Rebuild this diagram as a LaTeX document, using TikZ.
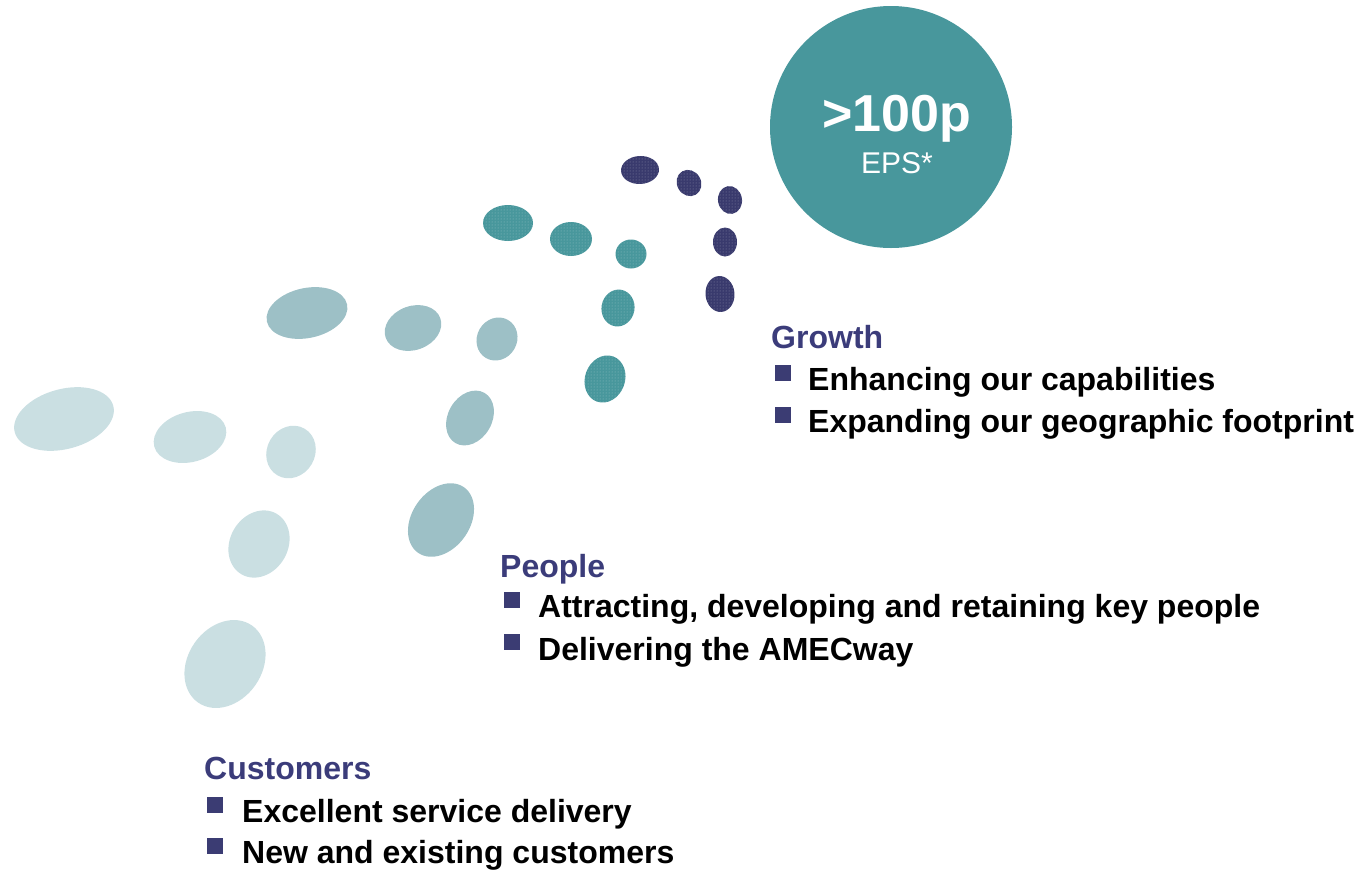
\documentclass[tikz,border=0pt]{standalone}
\usepackage{fontspec}
\setmainfont{Liberation Sans}
\usetikzlibrary{patterns}
\definecolor{navy}{HTML}{393A6D}
\definecolor{tealc}{HTML}{48979C}
\definecolor{midc}{HTML}{9DC0C6}
\definecolor{lightc}{HTML}{CADFE2}
\definecolor{headc}{HTML}{3B3C7A}
\definecolor{bulc}{HTML}{3B3C73}
\newcommand\myblob[5]{\fill[#1,rotate around={#5:(#2)}] (#2) ellipse [x radius=#3,y radius=#4];}
\newcommand\mydotblob[5]{\fill[#1,rotate around={#5:(#2)}] (#2) ellipse [x radius=#3,y radius=#4];
  \fill[pattern=dots,pattern color=white,opacity=0.4,rotate around={#5:(#2)}] (#2) ellipse [x radius=#3,y radius=#4];}
\begin{document}
\begin{tikzpicture}[x=1pt,y=-1pt,
  heading/.style={anchor=base west,inner sep=0pt,font=\fontsize{32}{32}\selectfont\bfseries,text=headc},
  item/.style={anchor=base west,inner sep=0pt,font=\fontsize{32}{32}\selectfont\bfseries,text=black},
  bul/.style={fill=bulc,draw=none,minimum size=16pt,inner sep=0pt}]
\useasboundingbox (0,0) rectangle (1362,873);
% light
\myblob{lightc}{64,419}{51}{30}{15}
\myblob{lightc}{190,437}{37}{25}{15}
\myblob{lightc}{291,452}{27}{24}{60}
\myblob{lightc}{259,544}{35}{29}{60}
\myblob{lightc}{225,664}{47}{37}{55}
% mid
\myblob{midc}{307,313}{41}{25}{12}
\myblob{midc}{413,328}{29}{22}{20}
\myblob{midc}{497,339}{22}{20}{60}
\myblob{midc}{470,418}{29}{22}{60}
\myblob{midc}{441,520}{40}{29}{55}
% teal
\mydotblob{tealc}{508,223}{25}{18}{0}
\mydotblob{tealc}{571,239}{21}{17}{0}
\mydotblob{tealc}{631,254}{15.5}{14.5}{0}
\mydotblob{tealc}{618,308}{18.5}{16.5}{80}
\mydotblob{tealc}{605,379}{24}{20}{70}
% navy
\mydotblob{navy}{640,170}{19}{14}{3}
\mydotblob{navy}{689,183}{13.5}{12}{-60}
\mydotblob{navy}{730,200}{14}{12}{100}
\mydotblob{navy}{725,242}{14.5}{12}{90}
\mydotblob{navy}{720,294}{18}{14.5}{95}
% circle
\node[circle,fill=tealc,minimum size=242pt,inner sep=0pt] (eps) at (891,127) {};
\node[text=white,font=\fontsize{52}{52}\selectfont\bfseries,inner sep=0pt,anchor=base] (val) at (897,131) {>100p};
\node[text=white,font=\fontsize{30}{30}\selectfont,inner sep=0pt,anchor=base] (epsl) at (897,173) {EPS*};
% Growth
\node[heading] (g) at (771,348) {Growth};
\node[bul] (gb1) at (783,373) {};
\node[item] (g1) at (808,390) {Enhancing our capabilities};
\node[bul] (gb2) at (783,415) {};
\node[item] (g2) at (808,432) {Expanding our geographic footprint};
% People
\node[heading] (p) at (500,577) {People};
\node[bul] (pb1) at (512,600) {};
\node[item] (p1) at (538,617) {Attracting, developing and retaining key people};
\node[bul] (pb2) at (512,642) {};
\node[item] (p2) at (538,660) {Delivering the AMECway};
% Customers
\node[heading] (c) at (204,779) {Customers};
\node[bul] (cb1) at (215,805) {};
\node[item] (c1) at (242,822) {Excellent service delivery};
\node[bul] (cb2) at (215,846) {};
\node[item] (c2) at (242,863) {New and existing customers};
\end{tikzpicture}
\end{document}
